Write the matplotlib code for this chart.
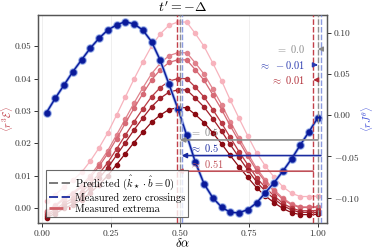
import numpy as np
import matplotlib
matplotlib.use("Agg")
import matplotlib.pyplot as plt

plt.rcParams['font.family'] = 'serif'
plt.rcParams['font.serif'] = ['cmr10', 'DejaVu Serif']
plt.rcParams['mathtext.fontset'] = 'cm'
plt.rcParams['axes.formatter.use_mathtext'] = True

# sample positions in delta alpha
delta_alpha = [0.016, 0.047, 0.079, 0.111, 0.143, 0.174, 0.206, 0.238,
               0.270, 0.301, 0.333, 0.365, 0.397, 0.428, 0.460, 0.492,
               0.524, 0.555, 0.587, 0.619, 0.651, 0.682, 0.714, 0.746,
               0.778, 0.809, 0.841, 0.873, 0.905, 0.936, 0.968, 1.000]

# <r J^theta> (right axis)
rJ = [0.0033, 0.0204, 0.0366, 0.0528, 0.0674, 0.0813, 0.0935, 0.1037,
      0.1098, 0.1138, 0.1110, 0.1037, 0.0894, 0.0671, 0.0378, 0.0082,
      -0.024, -0.0565, -0.0833, -0.1004, -0.1118, -0.118, -0.1187, -0.1146,
      -0.1065, -0.0943, -0.082, -0.068, -0.0528, -0.0362, -0.0199, -0.0028]

# <r^3 E> (left axis), light to dark
rE_0 = [0.0021, 0.004, 0.0065, 0.0085, 0.011, 0.0144, 0.0185, 0.0232,
        0.0287, 0.0342, 0.0398, 0.0451, 0.0501, 0.0538, 0.0565, 0.0575,
        0.0575, 0.054, 0.050, 0.0448, 0.0393, 0.0334, 0.0277, 0.0222,
        0.017, 0.013, 0.0095, 0.0065, 0.0045, 0.0035, 0.0035, 0.0036]
rE_1 = [-0.001, 0.0008, 0.003, 0.0047, 0.0069, 0.0099, 0.0136, 0.0177,
        0.0226, 0.0274, 0.0324, 0.0371, 0.0415, 0.0447, 0.0471, 0.048,
        0.048, 0.0449, 0.0414, 0.0368, 0.0319, 0.0267, 0.0217, 0.0168,
        0.0122, 0.0087, 0.0056, 0.003, 0.0012, 0.0003, 0.0003, 0.0004]
rE_2 = [-0.0012, 0.0005, 0.0026, 0.0043, 0.0064, 0.0093, 0.0128, 0.0168,
        0.0214, 0.0261, 0.0308, 0.0353, 0.0396, 0.0427, 0.0450, 0.0458,
        0.0458, 0.0428, 0.0395, 0.0350, 0.0304, 0.0254, 0.0206, 0.0159,
        0.0115, 0.0081, 0.0051, 0.0026, 0.0009, 0.0001, 0.0001, 0.0002]
rE_3 = [-0.002, -0.0005, 0.0014, 0.0029, 0.0048, 0.0074, 0.0105, 0.0140,
        0.0182, 0.0224, 0.0266, 0.0306, 0.0344, 0.0372, 0.0392, 0.040,
        0.040, 0.0374, 0.0343, 0.0304, 0.0262, 0.0218, 0.0174, 0.0133,
        0.0093, 0.0063, 0.0037, 0.0014, -0.0001, -0.0009, -0.0009, -0.0008]
rE_4 = [-0.0025, -0.0011, 0.0007, 0.0021, 0.0038, 0.0062, 0.0091, 0.0124,
        0.0163, 0.0201, 0.0241, 0.0278, 0.0313, 0.0339, 0.0358, 0.0365,
        0.0365, 0.0340, 0.0312, 0.0276, 0.0237, 0.0196, 0.0156, 0.0117,
        0.0080, 0.0052, 0.0028, 0.0007, -0.0007, -0.0014, -0.0014, -0.0014]
rE_5 = [-0.003, -0.0018, -0.0002, 0.0010, 0.0025, 0.0046, 0.0071, 0.0100,
        0.0134, 0.0167, 0.0202, 0.0234, 0.0265, 0.0287, 0.0304, 0.031,
        0.031, 0.0289, 0.0264, 0.0232, 0.0198, 0.0162, 0.0127, 0.0094,
        0.0062, 0.0037, 0.0016, -0.0002, -0.0015, -0.0021, -0.0021, -0.0020]
red_series = [rE_0, rE_1, rE_2, rE_3, rE_4, rE_5]
red_colors = ['#f7b3bd', '#e0828c', '#d66a76', '#b83a44', '#a0202a', '#8a0a12']

# vertical markers
predicted = [0.5, 1.0]
zero_cross = [0.506, 1.011]
extrema = [0.49, 0.983]

# separations and offsets (right axis heights)
sep_labels = [r'$=\;0.5$', r'$\approx\;0.5$', r'$\approx\;0.51$']
sep_y = [-0.030, -0.049, -0.068]
off_labels = [r'$=\;0.0$', r'$\approx\;-0.01$', r'$\approx\;0.01$']
off_y = [0.0805, 0.0613, 0.043]

c_gray = '#909090'
c_lblue = '#8c9be0'
c_red = '#c2404a'

fig = plt.figure(figsize=(3.74, 2.49), dpi=100)
ax = fig.add_axes([0.1016, 0.1044, 0.7727, 0.8356])
ax2 = ax.twinx()

for s, c in zip(red_series, red_colors):
    ax.plot(delta_alpha, s, '-o', color=c, lw=0.9, ms=3, zorder=2)

ax.set_xlim(-0.015, 1.033)
ax.set_ylim(-0.0047, 0.0597)
ax2.set_ylim(-0.131, 0.122)
ax.grid(axis='x', color='#ececec', lw=0.6)
ax.set_axisbelow(True)

# blue curve with light halo
ax2.plot(delta_alpha, rJ, '-o', color='#c2d0f2', lw=2.4, ms=5.5, zorder=3)
ax2.plot(delta_alpha, rJ, '-o', color='#6f88d8', lw=1.5, ms=4.5, zorder=3)
ax2.plot(delta_alpha, rJ, '-o', color='#0a1a9a', lw=0.9, ms=3.5, zorder=4)

for x in predicted:
    ax2.axvline(x, color=c_gray, ls=(0, (4, 1.5)), lw=1.0, zorder=5)
for x in zero_cross:
    ax2.axvline(x, color=c_lblue, ls=(0, (4, 1.5)), lw=1.0, zorder=5)
for x in extrema:
    ax2.axvline(x, color=c_red, ls=(0, (4, 1.5)), lw=1.0, zorder=5)

# separation arrows
sep_colors = ['#8a8a8a', '#1a2aa0', '#c05058']
sep_x = [(predicted[1], predicted[0]), (zero_cross[1], zero_cross[0]),
         (extrema[1], extrema[0])]
for (x1, x0), y, lab, c in zip(sep_x, sep_y, sep_labels, sep_colors):
    ax2.annotate('', xy=(x0, y), xytext=(x1, y),
                 arrowprops=dict(arrowstyle='-|>', color=c, lw=1.2,
                                 mutation_scale=7, shrinkA=0, shrinkB=0),
                 zorder=6)
    ax2.text(0.535, y + 0.002, lab, color=c, fontsize=7.5, va='bottom',
             ha='left', zorder=6)

# offset arrows near delta alpha = 1
off_colors = ['#8a8a8a', '#2a3ab0', '#b02a34']
off_arrows = [(1.018, 1.0), (0.99, 1.0), (1.0, 0.983)]
for (x1, x0), y, lab, c in zip(off_arrows, off_y, off_labels, off_colors):
    ax2.annotate('', xy=(x0, y), xytext=(x1, y),
                 arrowprops=dict(arrowstyle='-|>', color=c, lw=1.0,
                                 mutation_scale=7, shrinkA=0, shrinkB=0),
                 zorder=6)
    ax2.text(0.952, y, lab, color=c, fontsize=7.5, va='center', ha='right',
             zorder=6)

ax.set_xticks([0.0, 0.25, 0.5, 0.75, 1.0])
ax.set_xticklabels(['0.00', '0.25', '0.50', '0.75', '1.00'])
ax.set_yticks([0.0, 0.01, 0.02, 0.03, 0.04, 0.05])
ax.set_yticklabels(['0.00', '0.01', '0.02', '0.03', '0.04', '0.05'])
ax2.set_yticks([-0.10, -0.05, 0.0, 0.05, 0.10])
ax2.set_yticklabels(['$-0.10$', '$-0.05$', '0.00', '0.05', '0.10'])
for a in (ax, ax2):
    a.tick_params(labelsize=6.8, length=3, width=0.7, pad=2,
                  colors='#333333')
    for sp in a.spines.values():
        sp.set_color('#555555')
        sp.set_linewidth(0.9)

ax.set_xlabel(r'$\delta\alpha$', fontsize=9)
ax.xaxis.set_label_coords(0.5, -0.068)
ax.set_ylabel(r'$\langle r^3\mathcal{E}\rangle$', color=c_red, fontsize=7.5)
ax.yaxis.set_label_coords(-0.078, 0.5)
ax2.set_ylabel(r'$\langle rJ^\theta\rangle$', color='#3a4ad8', fontsize=7.5)
ax2.yaxis.set_label_coords(1.112, 0.5)
ax.set_title(r"$t' = -\Delta$", fontsize=10, pad=2)

h1, = ax2.plot([], [], color='#707070', ls=(0, (5, 2)), lw=1.3)
h2, = ax2.plot([], [], color='#1a2aa0', ls=(0, (5, 2)), lw=1.3)
h3, = ax2.plot([], [], color='#d06068', ls=(0, (5, 2)), lw=2.0)
leg = ax2.legend([h1, h2, h3],
                 [r'Predicted ($\hat{k}_\star\cdot\hat{b}=0$)',
                  'Measured zero crossings', 'Measured extrema'],
                 loc='lower left', bbox_to_anchor=(0.028, 0.03),
                 fontsize=7.6, frameon=True, fancybox=False,
                 handlelength=2.0, handletextpad=0.4, borderpad=0.3,
                 labelspacing=0.12, borderaxespad=0)
leg.get_frame().set_edgecolor('#444444')
leg.get_frame().set_linewidth(0.8)
leg.set_zorder(10)

fig.savefig('out.png', dpi=100)
